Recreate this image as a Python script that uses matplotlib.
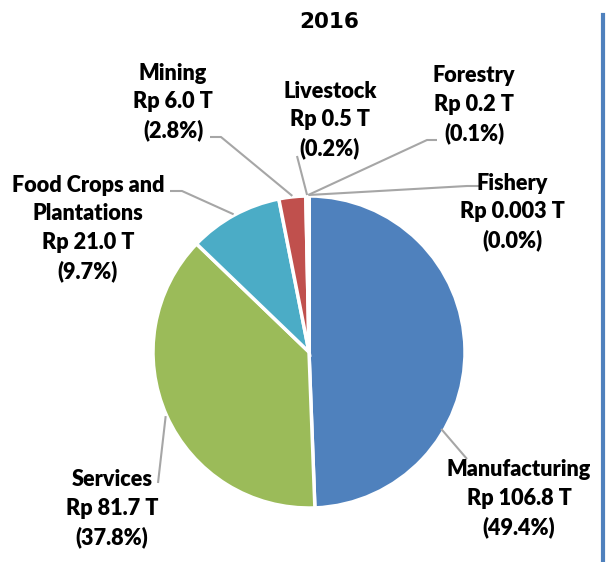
import numpy as np
import matplotlib
matplotlib.use("Agg")
import matplotlib.pyplot as plt

# data
sectors = ["Manufacturing", "Services", "Food Crops and\nPlantations", "Mining",
           "Livestock", "Forestry", "Fishery"]
value_txt = ["106.8", "81.7", "21.0", "6.0", "0.5", "0.2", "0.003"]
values = [106.8, 81.7, 21.0, 6.0, 0.5, 0.2, 0.003]
shares = ["49.4%", "37.8%", "9.7%", "2.8%", "0.2%", "0.1%", "0.0%"]
colors = ["#4F81BD", "#9BBB59", "#4BACC6", "#C0504D", "#8064A2", "#F79646", "#2C4D75"]

# layout, in image pixels (y down)
W, H = 606, 562
cx, cy, R = 309, 352, 156
# text centre (first line), angle where leader touches pie (deg clockwise from top),
# elbow point and text-side end of the leader (None = straight line)
label_pos = [(519, 470), (112, 480), (88, 185), (173, 73), (330, 91), (474, 76), (512, 183)]
attach_deg = [120.2, 245.9, 331.3, 353.9, 359.3, 359.7, 359.9]
elbow = [None, None, (182, 191), (221, 137), None, (427, 140), (467, 186)]
leader_end = [(467, 459), (158, 483), (170, 191), (210, 137), (297, 156), (437, 140), (480, 186)]

fig = plt.figure(figsize=(W / 100, H / 100), dpi=100)
ax = fig.add_axes([0, 0, 1, 1])

ax.pie(values, colors=colors, startangle=-90, counterclock=True,
       center=(cx, cy), radius=R,
       wedgeprops=dict(edgecolor="white", linewidth=2.5))
ax.set_xlim(0, W)
ax.set_ylim(H, 0)
ax.set_aspect("equal")
ax.axis("off")

lab_font = dict(family=["Lato", "DejaVu Sans"], fontweight="heavy", fontsize=15.6,
                color="black", ha="center", va="center")
step = 28.7
for i, name in enumerate(sectors):
    lines = name.split("\n") + ["Rp " + value_txt[i] + " T", "(" + shares[i] + ")"]
    x0, y0 = label_pos[i]
    for k, s in enumerate(lines):
        ax.text(x0, y0 + k * step, s, **lab_font)
    a = np.radians(attach_deg[i])
    r_att = R - 3 if i == 0 else R + 1
    px, py = cx + r_att * np.sin(a), cy - r_att * np.cos(a)
    pts = [(px, py)]
    if elbow[i] is not None:
        pts.append(elbow[i])
    pts.append(leader_end[i])
    xs, ys = zip(*pts)
    ax.plot(xs, ys, color="#A6A6A6", lw=1.5, solid_capstyle="butt")

ax.text(329, 22, "2016", family="DejaVu Sans", fontweight="bold",
        fontsize=15.5, ha="center", va="center")

# right border line
ax.plot([603, 603], [15, H], color="#4F81BD", lw=3)

fig.savefig("out.png", dpi=100)
